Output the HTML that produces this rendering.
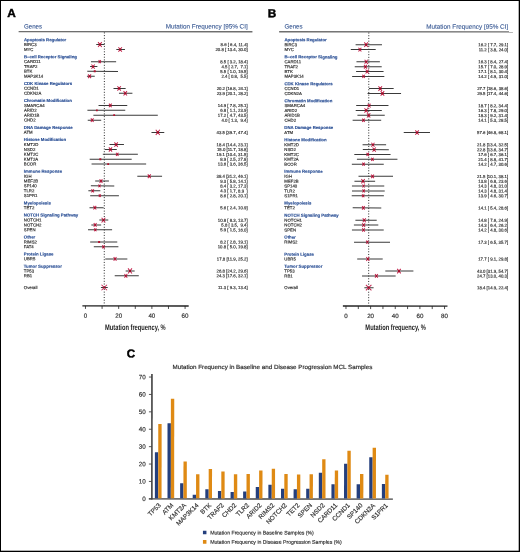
<!DOCTYPE html><html><head><meta charset="utf-8"><style>html,body{margin:0;padding:0;background:#fff;overflow:hidden}svg{display:block;will-change:transform}text{font-family:"Liberation Sans",sans-serif;text-rendering:geometricPrecision}.s{stroke:#333;stroke-width:0.17}.h{stroke:#2a4f95;stroke-width:0.15}</style></head><body>
<svg width="520" height="552" viewBox="0 0 520 552">
<rect x="0" y="0" width="520" height="552" fill="#000"/>
<rect x="1" y="1" width="517.7" height="549.7" fill="#fff"/>
<g transform="rotate(0.03 260 276)">
<text x="7.20" y="17.2" font-weight="bold" font-size="11.8" fill="#000" stroke="#000" stroke-width="0.45">A</text>
<text x="23.80" y="28.6" font-size="6.2" fill="#3b5b95" stroke="#3b5b95" stroke-width="0.12">Genes</text>
<text x="247.60" y="28.6" font-size="6.3" fill="#3b5b95" stroke="#3b5b95" stroke-width="0.12" text-anchor="end" textLength="82" lengthAdjust="spacingAndGlyphs">Mutation Frequency [95% CI]</text>
<line x1="18.50" y1="31.75" x2="252.30" y2="31.75" stroke="#6e6e6e" stroke-width="1.4"/>
<line x1="104.26" y1="32.5" x2="104.26" y2="305.5" stroke="#111" stroke-width="0.9" stroke-dasharray="1 1.7"/>
<text class="h" x="23.80" y="41.32" font-size="4.3" font-weight="bold" fill="#2a4f95">Apoptosis Regulator</text>
<text class="s" x="23.80" y="46.15" font-size="4.3" fill="#333">BIRC3</text>
<line x1="96.12" y1="44.65" x2="104.42" y2="44.65" stroke="#3a3a3a" stroke-width="1"/>
<path d="M97.94 42.26L101.62 47.05M101.62 42.26L97.94 47.05" stroke="#c42a52" stroke-width="1.05" fill="none"/><rect x="98.81" y="43.69" width="1.93" height="1.93" fill="#a00822"/>
<text class="s" x="247.60" y="46.15" font-size="4.3" fill="#333" text-anchor="end" xml:space="preserve">8.6 [ 6.4, 11.4]</text>
<text class="s" x="23.80" y="51.05" font-size="4.3" fill="#333">MYC</text>
<line x1="116.21" y1="49.55" x2="124.84" y2="49.55" stroke="#3a3a3a" stroke-width="1"/>
<path d="M118.31 47.31L121.75 51.78M121.75 47.31L118.31 51.78" stroke="#c42a52" stroke-width="1.05" fill="none"/><rect x="119.12" y="48.64" width="1.81" height="1.81" fill="#a00822"/>
<text class="s" x="247.60" y="51.05" font-size="4.3" fill="#333" text-anchor="end" xml:space="preserve">20.8 [ 13.4, 30.0]</text>
<text class="h" x="23.80" y="58.35" font-size="4.3" font-weight="bold" fill="#2a4f95">B–cell Receptor Signaling</text>
<text class="s" x="23.80" y="63.22" font-size="4.3" fill="#333">CARD11</text>
<line x1="90.81" y1="61.72" x2="116.04" y2="61.72" stroke="#3a3a3a" stroke-width="1"/>
<path d="M98.49 60.26L100.73 63.18M100.73 60.26L98.49 63.18" stroke="#c42a52" stroke-width="1.05" fill="none"/><rect x="99.02" y="61.13" width="1.18" height="1.18" fill="#a00822"/>
<text class="s" x="247.60" y="63.22" font-size="4.3" fill="#333" text-anchor="end" xml:space="preserve">8.5 [ 3.2, 18.4]</text>
<text class="s" x="23.80" y="68.21" font-size="4.3" fill="#333">TRAF2</text>
<line x1="89.98" y1="66.71" x2="97.29" y2="66.71" stroke="#3a3a3a" stroke-width="1"/>
<path d="M91.37 64.63L94.57 68.79M94.57 64.63L91.37 68.79" stroke="#c42a52" stroke-width="1.05" fill="none"/><rect x="92.13" y="65.87" width="1.68" height="1.68" fill="#a00822"/>
<text class="s" x="247.60" y="68.21" font-size="4.3" fill="#333" text-anchor="end" xml:space="preserve">4.5 [ 2.7,  7.1]</text>
<text class="s" x="23.80" y="72.96" font-size="4.3" fill="#333">BTK</text>
<line x1="87.16" y1="71.46" x2="117.87" y2="71.46" stroke="#3a3a3a" stroke-width="1"/>
<rect x="93.63" y="70.46" width="2.00" height="2.00" fill="#b0102e"/>
<text class="s" x="247.60" y="72.96" font-size="4.3" fill="#333" text-anchor="end" xml:space="preserve">5.5 [ 1.0, 19.5]</text>
<text class="s" x="23.80" y="77.85" font-size="4.3" fill="#333">MAP3K14</text>
<line x1="86.83" y1="76.35" x2="94.63" y2="76.35" stroke="#3a3a3a" stroke-width="1"/>
<path d="M88.00 74.43L90.96 78.28M90.96 74.43L88.00 78.28" stroke="#c42a52" stroke-width="1.05" fill="none"/><rect x="88.71" y="75.58" width="1.55" height="1.55" fill="#a00822"/>
<text class="s" x="247.60" y="77.85" font-size="4.3" fill="#333" text-anchor="end" xml:space="preserve">2.4 [ 0.8,  5.5]</text>
<text class="h" x="23.80" y="85.16" font-size="4.3" font-weight="bold" fill="#2a4f95">CDK Kinase Regulators</text>
<text class="s" x="23.80" y="89.97" font-size="4.3" fill="#333">CCND1</text>
<line x1="113.39" y1="88.47" x2="125.51" y2="88.47" stroke="#3a3a3a" stroke-width="1"/>
<path d="M117.35 86.29L120.71 90.66M120.71 86.29L117.35 90.66" stroke="#c42a52" stroke-width="1.05" fill="none"/><rect x="118.15" y="87.59" width="1.76" height="1.76" fill="#a00822"/>
<text class="s" x="247.60" y="89.97" font-size="4.3" fill="#333" text-anchor="end" xml:space="preserve">20.2 [16.8, 24.1]</text>
<text class="s" x="23.80" y="94.92" font-size="4.3" fill="#333">CDKN2A</text>
<line x1="118.87" y1="93.42" x2="132.31" y2="93.42" stroke="#3a3a3a" stroke-width="1"/>
<path d="M123.49 91.23L126.85 95.60M126.85 91.23L123.49 95.60" stroke="#c42a52" stroke-width="1.05" fill="none"/><rect x="124.29" y="92.54" width="1.76" height="1.76" fill="#a00822"/>
<text class="s" x="247.60" y="94.92" font-size="4.3" fill="#333" text-anchor="end" xml:space="preserve">23.9 [20.1, 28.2]</text>
<text class="h" x="23.80" y="102.19" font-size="4.3" font-weight="bold" fill="#2a4f95">Chromatin Modification</text>
<text class="s" x="23.80" y="107.04" font-size="4.3" fill="#333">SMARCA4</text>
<line x1="98.45" y1="105.54" x2="127.17" y2="105.54" stroke="#3a3a3a" stroke-width="1"/>
<path d="M108.87 103.77L111.59 107.31M111.59 103.77L108.87 107.31" stroke="#c42a52" stroke-width="1.05" fill="none"/><rect x="109.52" y="104.83" width="1.43" height="1.43" fill="#a00822"/>
<text class="s" x="247.60" y="107.04" font-size="4.3" fill="#333" text-anchor="end" xml:space="preserve">14.9 [ 7.8, 25.1]</text>
<text class="s" x="23.80" y="111.89" font-size="4.3" fill="#333">ARID2</text>
<line x1="87.33" y1="110.39" x2="125.17" y2="110.39" stroke="#3a3a3a" stroke-width="1"/>
<rect x="95.89" y="109.49" width="1.80" height="1.80" fill="#b0102e"/>
<text class="s" x="247.60" y="111.89" font-size="4.3" fill="#333" text-anchor="end" xml:space="preserve">6.8 [ 1.1, 23.9]</text>
<text class="s" x="23.80" y="116.78" font-size="4.3" fill="#333">ARID1B</text>
<line x1="93.30" y1="115.28" x2="157.71" y2="115.28" stroke="#3a3a3a" stroke-width="1"/>
<rect x="113.15" y="114.38" width="1.80" height="1.80" fill="#b0102e"/>
<text class="s" x="247.60" y="116.78" font-size="4.3" fill="#333" text-anchor="end" xml:space="preserve">17.2 [ 4.7, 43.5]</text>
<text class="s" x="23.80" y="121.72" font-size="4.3" fill="#333">CHD2</text>
<line x1="87.66" y1="120.22" x2="101.10" y2="120.22" stroke="#3a3a3a" stroke-width="1"/>
<path d="M90.78 118.46L93.50 121.99M93.50 118.46L90.78 121.99" stroke="#c42a52" stroke-width="1.05" fill="none"/><rect x="91.43" y="119.51" width="1.43" height="1.43" fill="#a00822"/>
<text class="s" x="247.60" y="121.72" font-size="4.3" fill="#333" text-anchor="end" xml:space="preserve">4.0 [ 1.3,  9.4]</text>
<text class="h" x="23.80" y="129.00" font-size="4.3" font-weight="bold" fill="#2a4f95">DNA Damage Response</text>
<text class="s" x="23.80" y="133.95" font-size="4.3" fill="#333">ATM</text>
<line x1="151.40" y1="132.45" x2="164.18" y2="132.45" stroke="#3a3a3a" stroke-width="1"/>
<path d="M155.71 129.85L159.71 135.05M159.71 129.85L155.71 135.05" stroke="#c42a52" stroke-width="1.05" fill="none"/><rect x="156.66" y="131.40" width="2.10" height="2.10" fill="#a00822"/>
<text class="s" x="247.60" y="133.95" font-size="4.3" fill="#333" text-anchor="end" xml:space="preserve">43.5 [39.7, 47.4]</text>
<text class="h" x="23.80" y="141.15" font-size="4.3" font-weight="bold" fill="#2a4f95">Histone Modification</text>
<text class="s" x="23.80" y="146.19" font-size="4.3" fill="#333">KMT2D</text>
<line x1="109.40" y1="144.69" x2="123.85" y2="144.69" stroke="#3a3a3a" stroke-width="1"/>
<path d="M114.36 142.51L117.72 146.88M117.72 142.51L114.36 146.88" stroke="#c42a52" stroke-width="1.05" fill="none"/><rect x="115.16" y="143.81" width="1.76" height="1.76" fill="#a00822"/>
<text class="s" x="247.60" y="146.19" font-size="4.3" fill="#333" text-anchor="end" xml:space="preserve">18.4 [14.4, 23.1]</text>
<text class="s" x="23.80" y="151.06" font-size="4.3" fill="#333">NSD2</text>
<line x1="104.92" y1="149.56" x2="116.71" y2="149.56" stroke="#3a3a3a" stroke-width="1"/>
<path d="M108.80 147.48L112.00 151.64M112.00 147.48L108.80 151.64" stroke="#c42a52" stroke-width="1.05" fill="none"/><rect x="109.56" y="148.72" width="1.68" height="1.68" fill="#a00822"/>
<text class="s" x="247.60" y="151.06" font-size="4.3" fill="#333" text-anchor="end" xml:space="preserve">15.0 [11.7, 18.8]</text>
<text class="s" x="23.80" y="155.91" font-size="4.3" fill="#333">KMT2C</text>
<line x1="102.76" y1="154.41" x2="137.79" y2="154.41" stroke="#3a3a3a" stroke-width="1"/>
<path d="M116.01 152.85L118.41 155.97M118.41 152.85L116.01 155.97" stroke="#c42a52" stroke-width="1.05" fill="none"/><rect x="116.58" y="153.78" width="1.26" height="1.26" fill="#a00822"/>
<text class="s" x="247.60" y="155.91" font-size="4.3" fill="#333" text-anchor="end" xml:space="preserve">19.1 [10.4, 31.5]</text>
<text class="s" x="23.80" y="160.80" font-size="4.3" fill="#333">KMT2A</text>
<line x1="89.65" y1="159.30" x2="131.65" y2="159.30" stroke="#3a3a3a" stroke-width="1"/>
<rect x="99.27" y="158.30" width="2.00" height="2.00" fill="#b0102e"/>
<text class="s" x="247.60" y="160.80" font-size="4.3" fill="#333" text-anchor="end" xml:space="preserve">8.9 [ 2.5, 27.8]</text>
<text class="s" x="23.80" y="165.64" font-size="4.3" fill="#333">BCOR</text>
<line x1="91.48" y1="164.14" x2="146.09" y2="164.14" stroke="#3a3a3a" stroke-width="1"/>
<rect x="107.18" y="163.24" width="1.80" height="1.80" fill="#b0102e"/>
<text class="s" x="247.60" y="165.64" font-size="4.3" fill="#333" text-anchor="end" xml:space="preserve">13.6 [ 3.6, 36.5]</text>
<text class="h" x="23.80" y="172.85" font-size="4.3" font-weight="bold" fill="#2a4f95">Immune Response</text>
<text class="s" x="23.80" y="177.79" font-size="4.3" fill="#333">IGH</text>
<line x1="137.29" y1="176.29" x2="162.03" y2="176.29" stroke="#3a3a3a" stroke-width="1"/>
<path d="M147.76 174.37L150.72 178.22M150.72 174.37L147.76 178.22" stroke="#c42a52" stroke-width="1.05" fill="none"/><rect x="148.47" y="175.52" width="1.55" height="1.55" fill="#a00822"/>
<text class="s" x="247.60" y="177.79" font-size="4.3" fill="#333" text-anchor="end" xml:space="preserve">38.4 [31.2, 46.1]</text>
<text class="s" x="23.80" y="182.66" font-size="4.3" fill="#333">MEF2B</text>
<line x1="95.13" y1="181.16" x2="108.91" y2="181.16" stroke="#3a3a3a" stroke-width="1"/>
<path d="M99.54 179.34L102.34 182.98M102.34 179.34L99.54 182.98" stroke="#c42a52" stroke-width="1.05" fill="none"/><rect x="100.20" y="180.43" width="1.47" height="1.47" fill="#a00822"/>
<text class="s" x="247.60" y="182.66" font-size="4.3" fill="#333" text-anchor="end" xml:space="preserve">9.3 [ 5.8, 14.1]</text>
<text class="s" x="23.80" y="187.46" font-size="4.3" fill="#333">SP140</text>
<line x1="90.81" y1="185.96" x2="114.22" y2="185.96" stroke="#3a3a3a" stroke-width="1"/>
<path d="M98.40 184.60L100.48 187.31M100.48 184.60L98.40 187.31" stroke="#c42a52" stroke-width="1.05" fill="none"/><rect x="98.90" y="185.41" width="1.09" height="1.09" fill="#a00822"/>
<text class="s" x="247.60" y="187.46" font-size="4.3" fill="#333" text-anchor="end" xml:space="preserve">8.4 [ 3.2, 17.3]</text>
<text class="s" x="23.80" y="192.40" font-size="4.3" fill="#333">TLR2</text>
<line x1="88.32" y1="190.90" x2="100.27" y2="190.90" stroke="#3a3a3a" stroke-width="1"/>
<path d="M91.40 189.29L93.88 192.51M93.88 189.29L91.40 192.51" stroke="#c42a52" stroke-width="1.05" fill="none"/><rect x="91.99" y="190.25" width="1.30" height="1.30" fill="#a00822"/>
<text class="s" x="247.60" y="192.40" font-size="4.3" fill="#333" text-anchor="end" xml:space="preserve">4.3 [ 1.7, 8.9  ]</text>
<text class="s" x="23.80" y="197.24" font-size="4.3" fill="#333">S1PR1</text>
<line x1="90.15" y1="195.74" x2="118.87" y2="195.74" stroke="#3a3a3a" stroke-width="1"/>
<path d="M98.78 194.44L100.78 197.04M100.78 194.44L98.78 197.04" stroke="#c42a52" stroke-width="1.05" fill="none"/><rect x="99.25" y="195.22" width="1.05" height="1.05" fill="#a00822"/>
<text class="s" x="247.60" y="197.24" font-size="4.3" fill="#333" text-anchor="end" xml:space="preserve">8.6 [ 2.8, 20.1]</text>
<text class="h" x="23.80" y="204.54" font-size="4.3" font-weight="bold" fill="#2a4f95">Myelopoiesis</text>
<text class="s" x="23.80" y="209.32" font-size="4.3" fill="#333">TET2</text>
<line x1="89.48" y1="207.82" x2="103.59" y2="207.82" stroke="#3a3a3a" stroke-width="1"/>
<path d="M93.40 206.00L96.20 209.64M96.20 206.00L93.40 209.64" stroke="#c42a52" stroke-width="1.05" fill="none"/><rect x="94.06" y="207.08" width="1.47" height="1.47" fill="#a00822"/>
<text class="s" x="247.60" y="209.32" font-size="4.3" fill="#333" text-anchor="end" xml:space="preserve">5.6 [ 2.4, 10.9]</text>
<text class="h" x="23.80" y="216.69" font-size="4.3" font-weight="bold" fill="#2a4f95">NOTCH Signaling Pathway</text>
<text class="s" x="23.80" y="221.69" font-size="4.3" fill="#333">NOTCH1</text>
<line x1="99.28" y1="220.19" x2="108.24" y2="220.19" stroke="#3a3a3a" stroke-width="1"/>
<path d="M101.59 217.80L105.27 222.58M105.27 217.80L101.59 222.58" stroke="#c42a52" stroke-width="1.05" fill="none"/><rect x="102.46" y="219.22" width="1.93" height="1.93" fill="#a00822"/>
<text class="s" x="247.60" y="221.69" font-size="4.3" fill="#333" text-anchor="end" xml:space="preserve">10.8 [ 8.3, 13.7]</text>
<text class="s" x="23.80" y="226.53" font-size="4.3" fill="#333">NOTCH2</text>
<line x1="91.31" y1="225.03" x2="101.10" y2="225.03" stroke="#3a3a3a" stroke-width="1"/>
<path d="M93.73 223.21L96.53 226.85M96.53 223.21L93.73 226.85" stroke="#c42a52" stroke-width="1.05" fill="none"/><rect x="94.39" y="224.30" width="1.47" height="1.47" fill="#a00822"/>
<text class="s" x="247.60" y="226.53" font-size="4.3" fill="#333" text-anchor="end" xml:space="preserve">5.8 [ 3.5,  9.4]</text>
<text class="s" x="23.80" y="231.40" font-size="4.3" fill="#333">SPEN</text>
<line x1="87.99" y1="229.90" x2="112.06" y2="229.90" stroke="#3a3a3a" stroke-width="1"/>
<path d="M94.17 228.44L96.41 231.36M96.41 228.44L94.17 231.36" stroke="#c42a52" stroke-width="1.05" fill="none"/><rect x="94.71" y="229.31" width="1.18" height="1.18" fill="#a00822"/>
<text class="s" x="247.60" y="231.40" font-size="4.3" fill="#333" text-anchor="end" xml:space="preserve">5.9 [ 1.5, 16.0]</text>
<text class="h" x="23.80" y="238.61" font-size="4.3" font-weight="bold" fill="#2a4f95">Other</text>
<text class="s" x="23.80" y="243.60" font-size="4.3" fill="#333">RIMS2</text>
<line x1="90.15" y1="242.10" x2="117.21" y2="242.10" stroke="#3a3a3a" stroke-width="1"/>
<rect x="98.11" y="241.10" width="2.00" height="2.00" fill="#b0102e"/>
<text class="s" x="247.60" y="243.60" font-size="4.3" fill="#333" text-anchor="end" xml:space="preserve">8.2 [ 2.8, 19.1]</text>
<text class="s" x="23.80" y="248.34" font-size="4.3" fill="#333">FAT4</text>
<line x1="93.80" y1="246.84" x2="118.37" y2="246.84" stroke="#3a3a3a" stroke-width="1"/>
<path d="M102.23 245.28L104.63 248.40M104.63 245.28L102.23 248.40" stroke="#c42a52" stroke-width="1.05" fill="none"/><rect x="102.80" y="246.21" width="1.26" height="1.26" fill="#a00822"/>
<text class="s" x="247.60" y="248.34" font-size="4.3" fill="#333" text-anchor="end" xml:space="preserve">10.8 [ 5.0, 19.8]</text>
<text class="h" x="23.80" y="255.64" font-size="4.3" font-weight="bold" fill="#2a4f95">Protein Ligase</text>
<text class="s" x="23.80" y="260.46" font-size="4.3" fill="#333">UBR5</text>
<line x1="105.25" y1="258.96" x2="127.33" y2="258.96" stroke="#3a3a3a" stroke-width="1"/>
<path d="M113.65 257.14L116.45 260.78M116.45 257.14L113.65 260.78" stroke="#c42a52" stroke-width="1.05" fill="none"/><rect x="114.31" y="258.23" width="1.47" height="1.47" fill="#a00822"/>
<text class="s" x="247.60" y="260.46" font-size="4.3" fill="#333" text-anchor="end" xml:space="preserve">17.8 [11.9, 25.2]</text>
<text class="h" x="23.80" y="267.79" font-size="4.3" font-weight="bold" fill="#2a4f95">Tumor Suppressor</text>
<text class="s" x="23.80" y="272.54" font-size="4.3" fill="#333">TP53</text>
<line x1="125.67" y1="271.04" x2="134.64" y2="271.04" stroke="#3a3a3a" stroke-width="1"/>
<path d="M128.03 268.49L131.95 273.59M131.95 268.49L128.03 273.59" stroke="#c42a52" stroke-width="1.05" fill="none"/><rect x="128.96" y="270.01" width="2.06" height="2.06" fill="#a00822"/>
<text class="s" x="247.60" y="272.54" font-size="4.3" fill="#333" text-anchor="end" xml:space="preserve">26.8 [24.2, 29.6]</text>
<text class="s" x="23.80" y="277.38" font-size="4.3" fill="#333">RB1</text>
<line x1="114.72" y1="275.88" x2="138.79" y2="275.88" stroke="#3a3a3a" stroke-width="1"/>
<path d="M124.44 274.06L127.24 277.70M127.24 274.06L124.44 277.70" stroke="#c42a52" stroke-width="1.05" fill="none"/><rect x="125.10" y="275.15" width="1.47" height="1.47" fill="#a00822"/>
<text class="s" x="247.60" y="277.38" font-size="4.3" fill="#333" text-anchor="end" xml:space="preserve">24.3 [17.6, 32.1]</text>
<text class="s" x="23.80" y="289.10" font-size="4.3" fill="#333">Overall</text>
<line x1="100.94" y1="287.60" x2="107.74" y2="287.60" stroke="#3a3a3a" stroke-width="1"/>
<path d="M101.51 284.85L107.01 290.35M107.01 284.85L101.51 290.35" stroke="#c42a52" stroke-width="1.0" fill="none"/><rect x="103.54" y="286.89" width="1.43" height="1.43" fill="#a00822"/>
<text class="s" x="247.60" y="289.10" font-size="4.3" fill="#333" text-anchor="end" xml:space="preserve">11.3 [ 9.3, 13.4]</text>
<line x1="82.40" y1="306" x2="188.70" y2="306" stroke="#222" stroke-width="1.4"/>
<line x1="85.50" y1="306" x2="85.50" y2="309" stroke="#222" stroke-width="0.8"/>
<text class="s" x="85.50" y="317.9" font-size="6.2" fill="#333" text-anchor="middle">0</text>
<line x1="102.10" y1="306" x2="102.10" y2="309" stroke="#222" stroke-width="0.8"/>
<line x1="118.70" y1="306" x2="118.70" y2="309" stroke="#222" stroke-width="0.8"/>
<text class="s" x="118.70" y="317.9" font-size="6.2" fill="#333" text-anchor="middle">20</text>
<line x1="135.30" y1="306" x2="135.30" y2="309" stroke="#222" stroke-width="0.8"/>
<line x1="151.90" y1="306" x2="151.90" y2="309" stroke="#222" stroke-width="0.8"/>
<text class="s" x="151.90" y="317.9" font-size="6.2" fill="#333" text-anchor="middle">40</text>
<line x1="168.50" y1="306" x2="168.50" y2="309" stroke="#222" stroke-width="0.8"/>
<line x1="185.10" y1="306" x2="185.10" y2="309" stroke="#222" stroke-width="0.8"/>
<text class="s" x="185.10" y="317.9" font-size="6.2" fill="#333" text-anchor="middle">60</text>
<text x="105.1" y="329.9" font-size="8.1" font-weight="bold" fill="#222" textLength="60.6" lengthAdjust="spacingAndGlyphs">Mutation frequency, %</text>
<text x="267.70" y="17.2" font-weight="bold" font-size="11.8" fill="#000" stroke="#000" stroke-width="0.45">B</text>
<text x="284.30" y="28.6" font-size="6.2" fill="#3b5b95" stroke="#3b5b95" stroke-width="0.12">Genes</text>
<text x="508.10" y="28.6" font-size="6.3" fill="#3b5b95" stroke="#3b5b95" stroke-width="0.12" text-anchor="end" textLength="82" lengthAdjust="spacingAndGlyphs">Mutation Frequency [95% CI]</text>
<line x1="279.00" y1="31.75" x2="512.80" y2="31.75" stroke="#6e6e6e" stroke-width="1.4"/>
<line x1="368.67" y1="32.5" x2="368.67" y2="305.5" stroke="#111" stroke-width="0.9" stroke-dasharray="1 1.7"/>
<text class="h" x="284.30" y="41.32" font-size="4.3" font-weight="bold" fill="#2a4f95">Apoptosis Regulator</text>
<text class="s" x="284.30" y="46.15" font-size="4.3" fill="#333">BIRC3</text>
<line x1="355.49" y1="44.65" x2="381.85" y2="44.65" stroke="#3a3a3a" stroke-width="1"/>
<path d="M364.20 42.37L367.72 46.94M367.72 42.37L364.20 46.94" stroke="#c42a52" stroke-width="1.05" fill="none"/><rect x="365.03" y="43.73" width="1.85" height="1.85" fill="#a00822"/>
<text class="s" x="508.10" y="46.15" font-size="4.3" fill="#333" text-anchor="end" xml:space="preserve">16.2 [ 7.7, 29.1]</text>
<text class="s" x="284.30" y="51.05" font-size="4.3" fill="#333">MYC</text>
<line x1="350.68" y1="49.55" x2="375.57" y2="49.55" stroke="#3a3a3a" stroke-width="1"/>
<path d="M358.36 47.68L361.24 51.42M361.24 47.68L358.36 51.42" stroke="#c42a52" stroke-width="1.05" fill="none"/><rect x="359.04" y="48.79" width="1.51" height="1.51" fill="#a00822"/>
<text class="s" x="508.10" y="51.05" font-size="4.3" fill="#333" text-anchor="end" xml:space="preserve">11.2 [ 3.8, 24.0]</text>
<text class="h" x="284.30" y="58.35" font-size="4.3" font-weight="bold" fill="#2a4f95">B–cell Receptor Signaling</text>
<text class="s" x="284.30" y="63.22" font-size="4.3" fill="#333">CARD11</text>
<line x1="356.35" y1="61.72" x2="379.76" y2="61.72" stroke="#3a3a3a" stroke-width="1"/>
<path d="M364.52 59.69L367.64 63.75M367.64 59.69L364.52 63.75" stroke="#c42a52" stroke-width="1.05" fill="none"/><rect x="365.26" y="60.90" width="1.64" height="1.64" fill="#a00822"/>
<text class="s" x="508.10" y="63.22" font-size="4.3" fill="#333" text-anchor="end" xml:space="preserve">16.3 [ 8.4, 27.4]</text>
<text class="s" x="284.30" y="68.21" font-size="4.3" fill="#333">TRAF2</text>
<line x1="354.62" y1="66.71" x2="381.60" y2="66.71" stroke="#3a3a3a" stroke-width="1"/>
<path d="M363.90 64.84L366.78 68.59M366.78 64.84L363.90 68.59" stroke="#c42a52" stroke-width="1.05" fill="none"/><rect x="364.59" y="65.96" width="1.51" height="1.51" fill="#a00822"/>
<text class="s" x="508.10" y="68.21" font-size="4.3" fill="#333" text-anchor="end" xml:space="preserve">15.7 [ 7.0, 28.9]</text>
<text class="s" x="284.30" y="72.96" font-size="4.3" fill="#333">BTK</text>
<line x1="355.98" y1="71.46" x2="383.45" y2="71.46" stroke="#3a3a3a" stroke-width="1"/>
<path d="M365.51 69.43L368.63 73.49M368.63 69.43L365.51 73.49" stroke="#c42a52" stroke-width="1.05" fill="none"/><rect x="366.25" y="70.64" width="1.64" height="1.64" fill="#a00822"/>
<text class="s" x="508.10" y="72.96" font-size="4.3" fill="#333" text-anchor="end" xml:space="preserve">17.1 [ 8.1, 30.4]</text>
<text class="s" x="284.30" y="77.85" font-size="4.3" fill="#333">MAP3K14</text>
<line x1="352.04" y1="76.35" x2="384.19" y2="76.35" stroke="#3a3a3a" stroke-width="1"/>
<path d="M362.25 74.74L364.73 77.96M364.73 74.74L362.25 77.96" stroke="#c42a52" stroke-width="1.05" fill="none"/><rect x="362.84" y="75.70" width="1.30" height="1.30" fill="#a00822"/>
<text class="s" x="508.10" y="77.85" font-size="4.3" fill="#333" text-anchor="end" xml:space="preserve">14.2 [ 4.9, 31.0]</text>
<text class="h" x="284.30" y="85.16" font-size="4.3" font-weight="bold" fill="#2a4f95">CDK Kinase Regulators</text>
<text class="s" x="284.30" y="89.97" font-size="4.3" fill="#333">CCND1</text>
<line x1="368.92" y1="88.47" x2="393.56" y2="88.47" stroke="#3a3a3a" stroke-width="1"/>
<path d="M378.37 86.19L381.89 90.76M381.89 86.19L378.37 90.76" stroke="#c42a52" stroke-width="1.05" fill="none"/><rect x="379.20" y="87.55" width="1.85" height="1.85" fill="#a00822"/>
<text class="s" x="508.10" y="89.97" font-size="4.3" fill="#333" text-anchor="end" xml:space="preserve">27.7 [18.6, 38.6]</text>
<text class="s" x="284.30" y="94.92" font-size="4.3" fill="#333">CDKN2A</text>
<line x1="367.44" y1="93.42" x2="400.95" y2="93.42" stroke="#3a3a3a" stroke-width="1"/>
<path d="M380.58 91.13L384.10 95.71M384.10 91.13L380.58 95.71" stroke="#c42a52" stroke-width="1.05" fill="none"/><rect x="381.42" y="92.49" width="1.85" height="1.85" fill="#a00822"/>
<text class="s" x="508.10" y="94.92" font-size="4.3" fill="#333" text-anchor="end" xml:space="preserve">29.5 [17.4, 44.6]</text>
<text class="h" x="284.30" y="102.19" font-size="4.3" font-weight="bold" fill="#2a4f95">Chromatin Modification</text>
<text class="s" x="284.30" y="107.04" font-size="4.3" fill="#333">SMARCA4</text>
<line x1="356.10" y1="105.54" x2="388.38" y2="105.54" stroke="#3a3a3a" stroke-width="1"/>
<path d="M367.60 103.67L370.48 107.41M370.48 103.67L367.60 107.41" stroke="#c42a52" stroke-width="1.05" fill="none"/><rect x="368.28" y="104.79" width="1.51" height="1.51" fill="#a00822"/>
<text class="s" x="508.10" y="107.04" font-size="4.3" fill="#333" text-anchor="end" xml:space="preserve">18.7 [ 8.2, 34.4]</text>
<text class="s" x="284.30" y="111.89" font-size="4.3" fill="#333">ARID2</text>
<line x1="355.61" y1="110.39" x2="381.73" y2="110.39" stroke="#3a3a3a" stroke-width="1"/>
<path d="M364.40 108.20L367.76 112.57M367.76 108.20L364.40 112.57" stroke="#c42a52" stroke-width="1.05" fill="none"/><rect x="365.20" y="109.50" width="1.76" height="1.76" fill="#a00822"/>
<text class="s" x="508.10" y="111.89" font-size="4.3" fill="#333" text-anchor="end" xml:space="preserve">16.3 [ 7.8, 29.0]</text>
<text class="s" x="284.30" y="116.78" font-size="4.3" fill="#333">ARID1B</text>
<line x1="357.33" y1="115.28" x2="384.68" y2="115.28" stroke="#3a3a3a" stroke-width="1"/>
<path d="M366.91 113.15L370.19 117.41M370.19 113.15L366.91 117.41" stroke="#c42a52" stroke-width="1.05" fill="none"/><rect x="367.68" y="114.42" width="1.72" height="1.72" fill="#a00822"/>
<text class="s" x="508.10" y="116.78" font-size="4.3" fill="#333" text-anchor="end" xml:space="preserve">18.3 [ 9.2, 31.4]</text>
<text class="s" x="284.30" y="121.72" font-size="4.3" fill="#333">CHD2</text>
<line x1="352.53" y1="120.22" x2="381.11" y2="120.22" stroke="#3a3a3a" stroke-width="1"/>
<path d="M362.13 118.61L364.61 121.84M364.61 118.61L362.13 121.84" stroke="#c42a52" stroke-width="1.05" fill="none"/><rect x="362.72" y="119.57" width="1.30" height="1.30" fill="#a00822"/>
<text class="s" x="508.10" y="121.72" font-size="4.3" fill="#333" text-anchor="end" xml:space="preserve">14.1 [ 5.3, 28.5]</text>
<text class="h" x="284.30" y="129.00" font-size="4.3" font-weight="bold" fill="#2a4f95">DNA Damage Response</text>
<text class="s" x="284.30" y="133.95" font-size="4.3" fill="#333">ATM</text>
<line x1="403.66" y1="132.45" x2="429.90" y2="132.45" stroke="#3a3a3a" stroke-width="1"/>
<path d="M415.28 130.26L418.64 134.63M418.64 130.26L415.28 134.63" stroke="#c42a52" stroke-width="1.05" fill="none"/><rect x="416.08" y="131.56" width="1.76" height="1.76" fill="#a00822"/>
<text class="s" x="508.10" y="133.95" font-size="4.3" fill="#333" text-anchor="end" xml:space="preserve">57.6 [46.8, 68.1]</text>
<text class="h" x="284.30" y="141.15" font-size="4.3" font-weight="bold" fill="#2a4f95">Histone Modification</text>
<text class="s" x="284.30" y="146.19" font-size="4.3" fill="#333">KMT2D</text>
<line x1="362.51" y1="144.69" x2="386.04" y2="144.69" stroke="#3a3a3a" stroke-width="1"/>
<path d="M371.34 142.72L374.38 146.67M374.38 142.72L371.34 146.67" stroke="#c42a52" stroke-width="1.05" fill="none"/><rect x="372.06" y="143.90" width="1.60" height="1.60" fill="#a00822"/>
<text class="s" x="508.10" y="146.19" font-size="4.3" fill="#333" text-anchor="end" xml:space="preserve">21.8 [13.4, 32.5]</text>
<text class="s" x="284.30" y="151.06" font-size="4.3" fill="#333">NSD2</text>
<line x1="362.76" y1="149.56" x2="388.75" y2="149.56" stroke="#3a3a3a" stroke-width="1"/>
<path d="M372.49 147.48L375.69 151.64M375.69 147.48L372.49 151.64" stroke="#c42a52" stroke-width="1.05" fill="none"/><rect x="373.25" y="148.72" width="1.68" height="1.68" fill="#a00822"/>
<text class="s" x="508.10" y="151.06" font-size="4.3" fill="#333" text-anchor="end" xml:space="preserve">22.8 [13.6, 34.7]</text>
<text class="s" x="284.30" y="155.91" font-size="4.3" fill="#333">KMT2C</text>
<line x1="354.25" y1="154.41" x2="390.48" y2="154.41" stroke="#3a3a3a" stroke-width="1"/>
<path d="M366.48 152.85L368.88 155.97M368.88 152.85L366.48 155.97" stroke="#c42a52" stroke-width="1.05" fill="none"/><rect x="367.05" y="153.78" width="1.26" height="1.26" fill="#a00822"/>
<text class="s" x="508.10" y="155.91" font-size="4.3" fill="#333" text-anchor="end" xml:space="preserve">17.6 [ 6.7, 36.1]</text>
<text class="s" x="284.30" y="160.80" font-size="4.3" fill="#333">KMT2A</text>
<line x1="356.84" y1="159.30" x2="397.37" y2="159.30" stroke="#3a3a3a" stroke-width="1"/>
<path d="M371.16 157.74L373.56 160.86M373.56 157.74L371.16 160.86" stroke="#c42a52" stroke-width="1.05" fill="none"/><rect x="371.73" y="158.67" width="1.26" height="1.26" fill="#a00822"/>
<text class="s" x="508.10" y="160.80" font-size="4.3" fill="#333" text-anchor="end" xml:space="preserve">21.4 [ 8.8, 41.7]</text>
<text class="s" x="284.30" y="165.64" font-size="4.3" fill="#333">BCOR</text>
<line x1="351.79" y1="164.14" x2="383.70" y2="164.14" stroke="#3a3a3a" stroke-width="1"/>
<path d="M362.29 162.58L364.69 165.70M364.69 162.58L362.29 165.70" stroke="#c42a52" stroke-width="1.05" fill="none"/><rect x="362.86" y="163.51" width="1.26" height="1.26" fill="#a00822"/>
<text class="s" x="508.10" y="165.64" font-size="4.3" fill="#333" text-anchor="end" xml:space="preserve">14.2 [ 4.7, 30.6]</text>
<text class="h" x="284.30" y="172.85" font-size="4.3" font-weight="bold" fill="#2a4f95">Immune Response</text>
<text class="s" x="284.30" y="177.79" font-size="4.3" fill="#333">IGH</text>
<line x1="358.44" y1="176.29" x2="392.94" y2="176.29" stroke="#3a3a3a" stroke-width="1"/>
<path d="M371.13 174.52L373.85 178.06M373.85 174.52L371.13 178.06" stroke="#c42a52" stroke-width="1.05" fill="none"/><rect x="371.77" y="175.58" width="1.43" height="1.43" fill="#a00822"/>
<text class="s" x="508.10" y="177.79" font-size="4.3" fill="#333" text-anchor="end" xml:space="preserve">21.5 [10.1, 38.1]</text>
<text class="s" x="284.30" y="182.66" font-size="4.3" fill="#333">MEF2B</text>
<line x1="354.38" y1="181.16" x2="375.08" y2="181.16" stroke="#3a3a3a" stroke-width="1"/>
<path d="M361.32 178.98L364.68 183.34M364.68 178.98L361.32 183.34" stroke="#c42a52" stroke-width="1.05" fill="none"/><rect x="362.12" y="180.28" width="1.76" height="1.76" fill="#a00822"/>
<text class="s" x="508.10" y="182.66" font-size="4.3" fill="#333" text-anchor="end" xml:space="preserve">13.8 [ 6.8, 23.6]</text>
<text class="s" x="284.30" y="187.46" font-size="4.3" fill="#333">SP140</text>
<line x1="351.91" y1="185.96" x2="384.19" y2="185.96" stroke="#3a3a3a" stroke-width="1"/>
<path d="M362.46 184.45L364.78 187.46M364.78 184.45L362.46 187.46" stroke="#c42a52" stroke-width="1.05" fill="none"/><rect x="363.01" y="185.35" width="1.22" height="1.22" fill="#a00822"/>
<text class="s" x="508.10" y="187.46" font-size="4.3" fill="#333" text-anchor="end" xml:space="preserve">14.3 [ 4.8, 31.0]</text>
<text class="s" x="284.30" y="192.40" font-size="4.3" fill="#333">TLR2</text>
<line x1="351.91" y1="190.90" x2="384.68" y2="190.90" stroke="#3a3a3a" stroke-width="1"/>
<path d="M362.46 189.39L364.78 192.41M364.78 189.39L362.46 192.41" stroke="#c42a52" stroke-width="1.05" fill="none"/><rect x="363.01" y="190.29" width="1.22" height="1.22" fill="#a00822"/>
<text class="s" x="508.10" y="192.40" font-size="4.3" fill="#333" text-anchor="end" xml:space="preserve">14.3 [ 4.8, 31.4]</text>
<text class="s" x="284.30" y="197.24" font-size="4.3" fill="#333">S1PR1</text>
<line x1="351.67" y1="195.74" x2="383.82" y2="195.74" stroke="#3a3a3a" stroke-width="1"/>
<path d="M361.96 194.23L364.28 197.25M364.28 194.23L361.96 197.25" stroke="#c42a52" stroke-width="1.05" fill="none"/><rect x="362.52" y="195.13" width="1.22" height="1.22" fill="#a00822"/>
<text class="s" x="508.10" y="197.24" font-size="4.3" fill="#333" text-anchor="end" xml:space="preserve">13.9 [ 4.6, 30.7]</text>
<text class="h" x="284.30" y="204.54" font-size="4.3" font-weight="bold" fill="#2a4f95">Myelopoiesis</text>
<text class="s" x="284.30" y="209.32" font-size="4.3" fill="#333">TET2</text>
<line x1="352.65" y1="207.82" x2="381.24" y2="207.82" stroke="#3a3a3a" stroke-width="1"/>
<path d="M362.05 206.10L364.69 209.53M364.69 206.10L362.05 209.53" stroke="#c42a52" stroke-width="1.05" fill="none"/><rect x="362.68" y="207.12" width="1.39" height="1.39" fill="#a00822"/>
<text class="s" x="508.10" y="209.32" font-size="4.3" fill="#333" text-anchor="end" xml:space="preserve">14.1 [ 5.4, 28.6]</text>
<text class="h" x="284.30" y="216.69" font-size="4.3" font-weight="bold" fill="#2a4f95">NOTCH Signaling Pathway</text>
<text class="s" x="284.30" y="221.69" font-size="4.3" fill="#333">NOTCH1</text>
<line x1="355.36" y1="220.19" x2="376.68" y2="220.19" stroke="#3a3a3a" stroke-width="1"/>
<path d="M362.71 218.21L365.75 222.16M365.75 218.21L362.71 222.16" stroke="#c42a52" stroke-width="1.05" fill="none"/><rect x="363.44" y="219.39" width="1.60" height="1.60" fill="#a00822"/>
<text class="s" x="508.10" y="221.69" font-size="4.3" fill="#333" text-anchor="end" xml:space="preserve">14.8 [ 7.6, 24.9]</text>
<text class="s" x="284.30" y="226.53" font-size="4.3" fill="#333">NOTCH2</text>
<line x1="353.88" y1="225.03" x2="378.28" y2="225.03" stroke="#3a3a3a" stroke-width="1"/>
<path d="M362.18 223.16L365.06 226.90M365.06 223.16L362.18 226.90" stroke="#c42a52" stroke-width="1.05" fill="none"/><rect x="362.86" y="224.28" width="1.51" height="1.51" fill="#a00822"/>
<text class="s" x="508.10" y="226.53" font-size="4.3" fill="#333" text-anchor="end" xml:space="preserve">14.3 [ 6.4, 26.2]</text>
<text class="s" x="284.30" y="231.40" font-size="4.3" fill="#333">SPEN</text>
<line x1="351.91" y1="229.90" x2="383.70" y2="229.90" stroke="#3a3a3a" stroke-width="1"/>
<path d="M362.21 228.24L364.77 231.56M364.77 228.24L362.21 231.56" stroke="#c42a52" stroke-width="1.05" fill="none"/><rect x="362.82" y="229.23" width="1.34" height="1.34" fill="#a00822"/>
<text class="s" x="508.10" y="231.40" font-size="4.3" fill="#333" text-anchor="end" xml:space="preserve">14.2 [ 4.8, 30.6]</text>
<text class="h" x="284.30" y="238.61" font-size="4.3" font-weight="bold" fill="#2a4f95">Other</text>
<text class="s" x="284.30" y="243.60" font-size="4.3" fill="#333">RIMS2</text>
<line x1="354.01" y1="242.10" x2="389.98" y2="242.10" stroke="#3a3a3a" stroke-width="1"/>
<path d="M366.15 240.59L368.47 243.61M368.47 240.59L366.15 243.61" stroke="#c42a52" stroke-width="1.05" fill="none"/><rect x="366.70" y="241.49" width="1.22" height="1.22" fill="#a00822"/>
<text class="s" x="508.10" y="243.60" font-size="4.3" fill="#333" text-anchor="end" xml:space="preserve">17.3 [ 6.5, 35.7]</text>
<text class="h" x="284.30" y="255.64" font-size="4.3" font-weight="bold" fill="#2a4f95">Protein Ligase</text>
<text class="s" x="284.30" y="260.46" font-size="4.3" fill="#333">UBR5</text>
<line x1="357.21" y1="258.96" x2="382.71" y2="258.96" stroke="#3a3a3a" stroke-width="1"/>
<path d="M366.29 256.99L369.33 260.94M369.33 256.99L366.29 260.94" stroke="#c42a52" stroke-width="1.05" fill="none"/><rect x="367.01" y="258.17" width="1.60" height="1.60" fill="#a00822"/>
<text class="s" x="508.10" y="260.46" font-size="4.3" fill="#333" text-anchor="end" xml:space="preserve">17.7 [ 9.1, 29.8]</text>
<text class="h" x="284.30" y="267.79" font-size="4.3" font-weight="bold" fill="#2a4f95">Tumor Suppressor</text>
<text class="s" x="284.30" y="272.54" font-size="4.3" fill="#333">TP53</text>
<line x1="385.30" y1="271.04" x2="413.39" y2="271.04" stroke="#3a3a3a" stroke-width="1"/>
<path d="M397.22 268.75L400.74 273.33M400.74 268.75L397.22 273.33" stroke="#c42a52" stroke-width="1.05" fill="none"/><rect x="398.05" y="270.11" width="1.85" height="1.85" fill="#a00822"/>
<text class="s" x="508.10" y="272.54" font-size="4.3" fill="#333" text-anchor="end" xml:space="preserve">43.0 [31.9, 54.7]</text>
<text class="s" x="284.30" y="277.38" font-size="4.3" fill="#333">RB1</text>
<line x1="362.02" y1="275.88" x2="395.65" y2="275.88" stroke="#3a3a3a" stroke-width="1"/>
<path d="M375.03 274.06L377.83 277.70M377.83 274.06L375.03 277.70" stroke="#c42a52" stroke-width="1.05" fill="none"/><rect x="375.70" y="275.15" width="1.47" height="1.47" fill="#a00822"/>
<text class="s" x="508.10" y="277.38" font-size="4.3" fill="#333" text-anchor="end" xml:space="preserve">24.7 [13.0, 40.3]</text>
<text class="s" x="284.30" y="289.10" font-size="4.3" fill="#333">Overall</text>
<line x1="364.36" y1="287.60" x2="373.60" y2="287.60" stroke="#3a3a3a" stroke-width="1"/>
<path d="M365.92 284.85L371.42 290.35M371.42 284.85L365.92 290.35" stroke="#c42a52" stroke-width="1.0" fill="none"/><rect x="367.95" y="286.89" width="1.43" height="1.43" fill="#a00822"/>
<text class="s" x="508.10" y="289.10" font-size="4.3" fill="#333" text-anchor="end" xml:space="preserve">18.4 [14.9, 22.4]</text>
<line x1="342.90" y1="306" x2="447.50" y2="306" stroke="#222" stroke-width="1.4"/>
<line x1="346.00" y1="306" x2="346.00" y2="309" stroke="#222" stroke-width="0.8"/>
<text class="s" x="346.00" y="317.9" font-size="6.2" fill="#333" text-anchor="middle">0</text>
<line x1="358.32" y1="306" x2="358.32" y2="309" stroke="#222" stroke-width="0.8"/>
<line x1="370.64" y1="306" x2="370.64" y2="309" stroke="#222" stroke-width="0.8"/>
<text class="s" x="370.64" y="317.9" font-size="6.2" fill="#333" text-anchor="middle">20</text>
<line x1="382.96" y1="306" x2="382.96" y2="309" stroke="#222" stroke-width="0.8"/>
<line x1="395.28" y1="306" x2="395.28" y2="309" stroke="#222" stroke-width="0.8"/>
<text class="s" x="395.28" y="317.9" font-size="6.2" fill="#333" text-anchor="middle">40</text>
<line x1="407.60" y1="306" x2="407.60" y2="309" stroke="#222" stroke-width="0.8"/>
<line x1="419.92" y1="306" x2="419.92" y2="309" stroke="#222" stroke-width="0.8"/>
<text class="s" x="419.92" y="317.9" font-size="6.2" fill="#333" text-anchor="middle">60</text>
<line x1="432.24" y1="306" x2="432.24" y2="309" stroke="#222" stroke-width="0.8"/>
<line x1="444.56" y1="306" x2="444.56" y2="309" stroke="#222" stroke-width="0.8"/>
<text class="s" x="444.56" y="317.9" font-size="6.2" fill="#333" text-anchor="middle">80</text>
<text x="365.4" y="329.9" font-size="8.1" font-weight="bold" fill="#222" textLength="60.6" lengthAdjust="spacingAndGlyphs">Mutation frequency, %</text>
<text x="126.9" y="357.6" font-weight="bold" font-size="11.6" fill="#000" stroke="#000" stroke-width="0.45">C</text>
<text class="s" x="172.6" y="369" font-size="6" fill="#222" textLength="199.8" lengthAdjust="spacingAndGlyphs">Mutation Frequency in Baseline and Disease Progression MCL Samples</text>
<line x1="152" y1="374" x2="152" y2="499.6" stroke="#444" stroke-width="1.6"/>
<line x1="149" y1="499" x2="393" y2="499" stroke="#444" stroke-width="1.3"/>
<line x1="149" y1="498.90" x2="152" y2="498.90" stroke="#444" stroke-width="0.9"/>
<text class="s" x="145.9" y="501.05" font-size="6.3" fill="#333" text-anchor="end">0</text>
<line x1="149" y1="481.50" x2="152" y2="481.50" stroke="#444" stroke-width="0.9"/>
<text class="s" x="145.9" y="483.65" font-size="6.3" fill="#333" text-anchor="end">10</text>
<line x1="149" y1="464.10" x2="152" y2="464.10" stroke="#444" stroke-width="0.9"/>
<text class="s" x="145.9" y="466.25" font-size="6.3" fill="#333" text-anchor="end">20</text>
<line x1="149" y1="446.70" x2="152" y2="446.70" stroke="#444" stroke-width="0.9"/>
<text class="s" x="145.9" y="448.85" font-size="6.3" fill="#333" text-anchor="end">30</text>
<line x1="149" y1="429.30" x2="152" y2="429.30" stroke="#444" stroke-width="0.9"/>
<text class="s" x="145.9" y="431.45" font-size="6.3" fill="#333" text-anchor="end">40</text>
<line x1="149" y1="411.90" x2="152" y2="411.90" stroke="#444" stroke-width="0.9"/>
<text class="s" x="145.9" y="414.05" font-size="6.3" fill="#333" text-anchor="end">50</text>
<line x1="149" y1="394.50" x2="152" y2="394.50" stroke="#444" stroke-width="0.9"/>
<text class="s" x="145.9" y="396.65" font-size="6.3" fill="#333" text-anchor="end">60</text>
<line x1="149" y1="377.10" x2="152" y2="377.10" stroke="#444" stroke-width="0.9"/>
<text class="s" x="145.9" y="379.25" font-size="6.3" fill="#333" text-anchor="end">70</text>
<rect x="155.00" y="452.27" width="3.35" height="46.13" fill="#243f7d"/>
<rect x="158.35" y="424.08" width="3.35" height="74.32" fill="#df8a14"/>
<text class="s" x="0" y="0" font-size="6.4" fill="#333" text-anchor="end" transform="translate(161.35,505.8) rotate(-45)">TP53</text>
<rect x="167.61" y="423.21" width="3.35" height="75.19" fill="#243f7d"/>
<rect x="170.96" y="398.68" width="3.35" height="99.72" fill="#df8a14"/>
<text class="s" x="0" y="0" font-size="6.4" fill="#333" text-anchor="end" transform="translate(173.96,505.8) rotate(-45)">ATM</text>
<rect x="180.22" y="483.41" width="3.35" height="14.99" fill="#243f7d"/>
<rect x="183.57" y="461.66" width="3.35" height="36.74" fill="#df8a14"/>
<text class="s" x="0" y="0" font-size="6.4" fill="#333" text-anchor="end" transform="translate(186.57,505.8) rotate(-45)">KMT2A</text>
<rect x="192.83" y="494.72" width="3.35" height="3.68" fill="#243f7d"/>
<rect x="196.18" y="474.19" width="3.35" height="24.21" fill="#df8a14"/>
<text class="s" x="0" y="0" font-size="6.4" fill="#333" text-anchor="end" transform="translate(199.18,505.8) rotate(-45)">MAP3K14</text>
<rect x="205.44" y="489.33" width="3.35" height="9.07" fill="#243f7d"/>
<rect x="208.79" y="469.15" width="3.35" height="29.25" fill="#df8a14"/>
<text class="s" x="0" y="0" font-size="6.4" fill="#333" text-anchor="end" transform="translate(211.79,505.8) rotate(-45)">BTK</text>
<rect x="218.05" y="491.07" width="3.35" height="7.33" fill="#243f7d"/>
<rect x="221.40" y="471.58" width="3.35" height="26.82" fill="#df8a14"/>
<text class="s" x="0" y="0" font-size="6.4" fill="#333" text-anchor="end" transform="translate(224.40,505.8) rotate(-45)">TRAF2</text>
<rect x="230.66" y="491.94" width="3.35" height="6.46" fill="#243f7d"/>
<rect x="234.01" y="474.37" width="3.35" height="24.03" fill="#df8a14"/>
<text class="s" x="0" y="0" font-size="6.4" fill="#333" text-anchor="end" transform="translate(237.01,505.8) rotate(-45)">CHD2</text>
<rect x="243.27" y="491.42" width="3.35" height="6.98" fill="#243f7d"/>
<rect x="246.62" y="474.02" width="3.35" height="24.38" fill="#df8a14"/>
<text class="s" x="0" y="0" font-size="6.4" fill="#333" text-anchor="end" transform="translate(249.62,505.8) rotate(-45)">TLR2</text>
<rect x="255.88" y="487.07" width="3.35" height="11.33" fill="#243f7d"/>
<rect x="259.23" y="470.54" width="3.35" height="27.86" fill="#df8a14"/>
<text class="s" x="0" y="0" font-size="6.4" fill="#333" text-anchor="end" transform="translate(262.23,505.8) rotate(-45)">ARID2</text>
<rect x="268.49" y="484.63" width="3.35" height="13.77" fill="#243f7d"/>
<rect x="271.84" y="468.80" width="3.35" height="29.60" fill="#df8a14"/>
<text class="s" x="0" y="0" font-size="6.4" fill="#333" text-anchor="end" transform="translate(274.84,505.8) rotate(-45)">RIMS2</text>
<rect x="281.10" y="488.81" width="3.35" height="9.59" fill="#243f7d"/>
<rect x="284.45" y="474.02" width="3.35" height="24.38" fill="#df8a14"/>
<text class="s" x="0" y="0" font-size="6.4" fill="#333" text-anchor="end" transform="translate(287.45,505.8) rotate(-45)">NOTCH2</text>
<rect x="293.71" y="489.16" width="3.35" height="9.24" fill="#243f7d"/>
<rect x="297.06" y="474.37" width="3.35" height="24.03" fill="#df8a14"/>
<text class="s" x="0" y="0" font-size="6.4" fill="#333" text-anchor="end" transform="translate(300.06,505.8) rotate(-45)">TET2</text>
<rect x="306.32" y="488.63" width="3.35" height="9.77" fill="#243f7d"/>
<rect x="309.67" y="474.19" width="3.35" height="24.21" fill="#df8a14"/>
<text class="s" x="0" y="0" font-size="6.4" fill="#333" text-anchor="end" transform="translate(312.67,505.8) rotate(-45)">SPEN</text>
<rect x="318.93" y="472.80" width="3.35" height="25.60" fill="#243f7d"/>
<rect x="322.28" y="459.23" width="3.35" height="39.17" fill="#df8a14"/>
<text class="s" x="0" y="0" font-size="6.4" fill="#333" text-anchor="end" transform="translate(325.28,505.8) rotate(-45)">NSD2</text>
<rect x="331.54" y="484.11" width="3.35" height="14.29" fill="#243f7d"/>
<rect x="334.89" y="470.54" width="3.35" height="27.86" fill="#df8a14"/>
<text class="s" x="0" y="0" font-size="6.4" fill="#333" text-anchor="end" transform="translate(337.89,505.8) rotate(-45)">CARD11</text>
<rect x="344.15" y="463.75" width="3.35" height="34.65" fill="#243f7d"/>
<rect x="347.50" y="450.70" width="3.35" height="47.70" fill="#df8a14"/>
<text class="s" x="0" y="0" font-size="6.4" fill="#333" text-anchor="end" transform="translate(350.50,505.8) rotate(-45)">CCND1</text>
<rect x="356.76" y="484.28" width="3.35" height="14.12" fill="#243f7d"/>
<rect x="360.11" y="474.02" width="3.35" height="24.38" fill="#df8a14"/>
<text class="s" x="0" y="0" font-size="6.4" fill="#333" text-anchor="end" transform="translate(363.11,505.8) rotate(-45)">SP140</text>
<rect x="369.37" y="457.31" width="3.35" height="41.09" fill="#243f7d"/>
<rect x="372.72" y="447.57" width="3.35" height="50.83" fill="#df8a14"/>
<text class="s" x="0" y="0" font-size="6.4" fill="#333" text-anchor="end" transform="translate(375.72,505.8) rotate(-45)">CDKN2A</text>
<rect x="381.98" y="483.94" width="3.35" height="14.46" fill="#243f7d"/>
<rect x="385.33" y="474.71" width="3.35" height="23.69" fill="#df8a14"/>
<text class="s" x="0" y="0" font-size="6.4" fill="#333" text-anchor="end" transform="translate(388.33,505.8) rotate(-45)">S1PR1</text>
<rect x="203.1" y="530.8" width="3.5" height="3.6" fill="#243f7d"/>
<text class="s" x="210.3" y="534.5" font-size="5.2" fill="#333" textLength="103.7" lengthAdjust="spacingAndGlyphs">Mutation Frequency in Baseline Samples (%)</text>
<rect x="203.1" y="540.1" width="3.5" height="3.6" fill="#df8a14"/>
<text class="s" x="210.3" y="543.8" font-size="5.2" fill="#333" textLength="131.6" lengthAdjust="spacingAndGlyphs">Mutation Frequency in Disease Progression Samples (%)</text>
</g>
</svg></body></html>
